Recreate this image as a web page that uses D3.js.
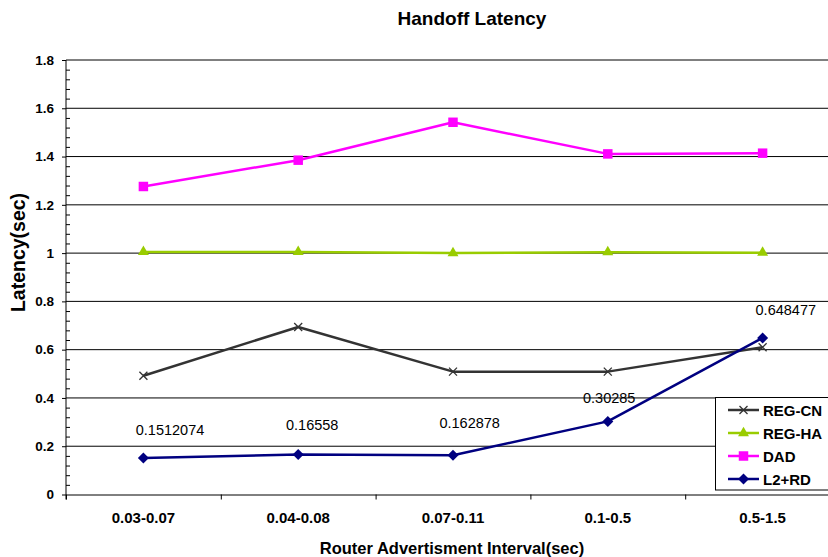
<!DOCTYPE html>
<html><head><meta charset="utf-8">
<script src="https://cdn.jsdelivr.net/npm/d3@7"></script>
<style>
html,body{margin:0;padding:0;background:#fff;}
svg{display:block;font-family:"Liberation Sans",Arial,sans-serif;}
</style></head>
<body><svg id="c" width="828" height="557"></svg>
<script>
const categories = ["0.03-0.07","0.04-0.08","0.07-0.11","0.1-0.5","0.5-1.5"];
const seriesNames = ["REG-CN","REG-HA","DAD","L2+RD"];
const regCN = [0.492, 0.694, 0.509, 0.509, 0.610];
const regHA = [1.005, 1.005, 1.000, 1.004, 1.002];
const dad   = [1.276, 1.385, 1.542, 1.411, 1.414];
const l2rd  = [0.1512074, 0.16558, 0.162878, 0.30285, 0.648477];
const l2rdLabels = ["0.1512074","0.16558","0.162878","0.30285","0.648477"];
const yTicks = [0,0.2,0.4,0.6,0.8,1,1.2,1.4,1.6,1.8];
const yTickLabels = ["0","0.2","0.4","0.6","0.8","1","1.2","1.4","1.6","1.8"];
// layout (label offsets in px relative to point)
const labelDx = [26.6, 14, 16.7, 1.4, 23.2];
const labelDy = [-23, -24.5, -27, -18.5, -23];

const colors = ["#333333","#99CC00","#FF00FF","#000080"];
const values = [regCN, regHA, dad, l2rd];

const svg = d3.select("#c");
const L = 66, R = 840, T = 60, B = 494.5;

const x = d3.scaleBand().domain(categories).range([L, R]).padding(0);
const xb = d3.scaleLinear().domain([0, categories.length]).range([L, R]);
const y = d3.scaleLinear().domain([0, 1.8]).range([B, T]);
const cx = c => x(c) + x.bandwidth()/2;

// gridlines
svg.append("g").selectAll("line").data(yTicks.filter(v=>v>0)).join("line")
  .attr("x1", L).attr("x2", R).attr("y1", d=>y(d)).attr("y2", d=>y(d))
  .attr("stroke", "#000").attr("stroke-width", 1);

// minor ticks (inward)
const minor = d3.range(0, 1.8001, 0.04).map(v=>+v.toFixed(2)).filter(v=>Math.abs(v/0.2-Math.round(v/0.2))>1e-6);
svg.append("g").attr("transform",`translate(${L},0)`)
  .call(d3.axisRight(y).tickValues(minor).tickSize(4).tickFormat(""))
  .call(g=>g.select(".domain").remove())
  .selectAll("line").attr("stroke","#000");

// y axis
const yAxis = svg.append("g").attr("transform",`translate(${L},0)`)
  .call(d3.axisLeft(y).tickValues(yTicks).tickSize(4).tickPadding(8)
    .tickFormat((d,i)=>yTickLabels[i]).tickSizeOuter(0));
yAxis.select(".domain").attr("d", `M0,${T}V${B+5}`).attr("stroke","#000");
yAxis.selectAll("text").attr("font-size","13.5px").attr("font-weight","bold").attr("fill","#000")
  .attr("font-family","Liberation Sans, Arial, sans-serif");

// x axis boundary ticks
const xAxisB = svg.append("g").attr("transform",`translate(0,${B})`)
  .call(d3.axisBottom(xb).tickValues(d3.range(0, categories.length+1)).tickSize(5).tickFormat("").tickSizeOuter(0));
xAxisB.select(".domain").attr("stroke","#000");
// x category labels
const xAxis = svg.append("g").attr("transform",`translate(0,${B})`)
  .call(d3.axisBottom(x).tickSize(0).tickPadding(18));
xAxis.select(".domain").remove();
xAxis.selectAll("text").attr("font-size","15px").attr("font-weight","bold").attr("fill","#000")
  .attr("font-family","Liberation Sans, Arial, sans-serif");

// markers
function markerPath(i){
  if(i===0) return "M-4,-4L4,4M-4,4L4,-4";
  if(i===1) return d3.symbol(d3.symbolTriangle, 52)();
  if(i===2) return d3.symbol(d3.symbolSquare, 90)();
  return "M0,-5.5L5.5,0L0,5.5L-5.5,0Z";
}
function drawMarker(g, i){
  const p = g.append("path").attr("d", markerPath(i));
  if(i===0) p.attr("fill","none").attr("stroke",colors[i]).attr("stroke-width",1.3);
  else p.attr("fill",colors[i]).attr("stroke","none");
}

const line = d3.line().x((d,i)=>cx(categories[i])).y(d=>y(d));
values.forEach((vals,si)=>{
  const g = svg.append("g");
  g.append("path").datum(vals).attr("d", line).attr("fill","none")
    .attr("stroke", colors[si]).attr("stroke-width", 2.5).attr("stroke-linejoin","round");
  vals.forEach((v,i)=>{
    const m = g.append("g").attr("transform",`translate(${cx(categories[i])},${y(v)})`);
    drawMarker(m, si);
  });
});

// data labels for L2+RD
svg.append("g").selectAll("text").data(l2rd).join("text")
  .attr("x",(d,i)=>cx(categories[i])+labelDx[i]).attr("y",(d,i)=>y(d)+labelDy[i])
  .attr("text-anchor","middle").attr("font-size","14.5px").attr("fill","#000")
  .text((d,i)=>l2rdLabels[i]);

// legend
const lg = svg.append("g");
lg.append("rect").attr("x",715.5).attr("y",397.5).attr("width",130).attr("height",92.5)
  .attr("fill","#fff").attr("stroke","#000").attr("stroke-width",1);
seriesNames.forEach((n,i)=>{
  const ry = 410 + i*23;
  const e = lg.append("g").attr("transform",`translate(0,${ry})`);
  e.append("line").attr("x1",728).attr("x2",759).attr("y1",0).attr("y2",0)
    .attr("stroke",colors[i]).attr("stroke-width",2.5);
  const m = e.append("g").attr("transform","translate(743.5,0)");
  drawMarker(m, i);
  e.append("text").attr("x",763).attr("y",5.5).attr("font-size","15px").attr("font-weight","bold")
    .attr("fill","#000").text(n);
});

// titles
svg.append("text").attr("x",472).attr("y",25).attr("text-anchor","middle")
  .attr("font-size","19px").attr("font-weight","bold").text("Handoff Latency");
svg.append("text").attr("x",452).attr("y",554).attr("text-anchor","middle")
  .attr("font-size","16.5px").attr("font-weight","bold").text("Router Advertisment Interval(sec)");
svg.append("text").attr("transform","translate(25,252.5) rotate(-90)").attr("text-anchor","middle")
  .attr("font-size","19.5px").attr("font-weight","bold").text("Latency(sec)");
</script></body></html>
